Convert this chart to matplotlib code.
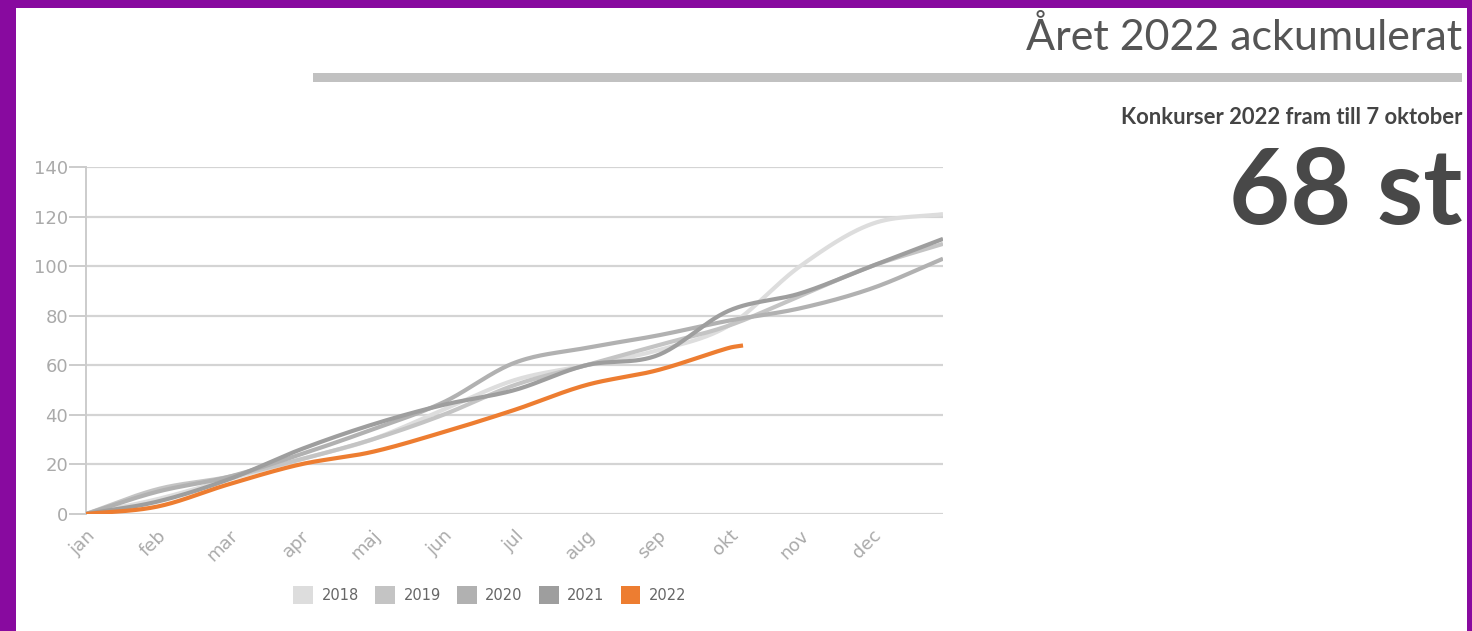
import numpy as np
import matplotlib.pyplot as plt
from matplotlib.patches import Rectangle, Patch

# månader (13:e punkten = årets slut, utan etikett)
months = ["jan", "feb", "mar", "apr", "maj", "jun", "jul", "aug", "sep", "okt", "nov", "dec", ""]
x_full = list(range(13))

y2018 = [0, 6, 14, 22, 30, 42, 54, 60, 66, 76, 100, 117, 121]
y2019 = [0, 10, 15, 22, 30, 40, 52, 60, 68, 76, 88, 100, 109]
y2020 = [0, 9, 15, 24, 34, 45, 61, 67, 72, 78, 83, 91, 103]
y2021 = [0, 5, 14, 26, 36, 44, 50, 60, 64, 82, 89, 100, 111]
x2022 = [0, 1, 2, 3, 4, 5, 6, 7, 8, 9, 9.2]
y2022 = [0, 3, 12, 20, 25, 33, 42, 52, 58, 67, 68]

years = ["2018", "2019", "2020", "2021", "2022"]
colors = ["#dddddd", "#c4c4c4", "#b1b1b1", "#9e9e9e", "#ed7d31"]


def smooth(xs, ys, n=30):
    # kubisk hermite genom punkterna, bara för att rita mjuka linjer
    xs = np.asarray(xs, float)
    ys = np.asarray(ys, float)
    m = np.zeros_like(ys)
    m[1:-1] = (ys[2:] - ys[:-2]) / (xs[2:] - xs[:-2])
    m[0] = (ys[1] - ys[0]) / (xs[1] - xs[0])
    m[-1] = (ys[-1] - ys[-2]) / (xs[-1] - xs[-2])
    ox, oy = [], []
    for i in range(len(xs) - 1):
        h = xs[i + 1] - xs[i]
        t = np.linspace(0, 1, n, endpoint=False)
        h00 = 2 * t**3 - 3 * t**2 + 1
        h10 = t**3 - 2 * t**2 + t
        h01 = -2 * t**3 + 3 * t**2
        h11 = t**3 - t**2
        ox.extend(xs[i] + t * h)
        oy.extend(h00 * ys[i] + h10 * h * m[i] + h01 * ys[i + 1] + h11 * h * m[i + 1])
    ox.append(xs[-1])
    oy.append(ys[-1])
    return ox, oy


W, H = 1472, 631
fig = plt.figure(figsize=(W / 100, H / 100), dpi=100)
fig.patch.set_facecolor("#880a9f")
fig.patches.append(Rectangle((16 / W, 0), (W - 16 - 5) / W, (H - 8) / H,
                             transform=fig.transFigure, facecolor="white", edgecolor="none", zorder=0))

ax = fig.add_axes([86 / W, (H - 514) / H, (943 - 86) / W, (514 - 167) / H])
ax.set_zorder(2)
ax.set_facecolor("white")

series = [(x_full, y2018), (x_full, y2019), (x_full, y2020), (x_full, y2021), (x2022, y2022)]
for (xs, ys), c in zip(series, colors):
    sx, sy = smooth(xs, ys)
    ax.plot(sx, sy, color=c, lw=3, solid_capstyle="butt", zorder=3)

ax.set_xlim(0, 12)
ax.set_ylim(0, 140)
ax.set_yticks(range(0, 141, 20))
ax.set_xticks(x_full)
ax.set_xticklabels(months, rotation=45, ha="right", rotation_mode="anchor")
ax.grid(axis="y", color="#d4d4d4", lw=1.6)
ax.set_axisbelow(True)
for s in ["top", "right", "bottom"]:
    ax.spines[s].set_visible(False)
ax.spines["left"].set_color("#cccccc")
ax.spines["left"].set_linewidth(1.4)
ax.tick_params(axis="y", length=12, width=1.4, color="#cccccc", labelcolor="#aaaaaa",
               labelsize=13, pad=1)
ax.tick_params(axis="x", length=0, labelcolor="#aaaaaa", labelsize=13, pad=9)

handles = [Patch(facecolor=c, edgecolor="none", label=y) for y, c in zip(years, colors)]
fig.legend(handles=handles, loc="center", bbox_to_anchor=(490 / W, 1 - 595 / H), ncol=5,
           frameon=False, fontsize=10.5, handlelength=1.35, handleheight=1.6,
           handletextpad=0.6, columnspacing=1.1, labelcolor="#666666")

# rubrik och nyckeltal till höger
fig.text(1462 / W, 1 - 50 / H, "Året 2022 ackumulerat", ha="right", va="baseline",
         fontsize=31, color="#555555", family="Lato", weight="normal")
fig.patches.append(Rectangle((313 / W, 1 - 82 / H), (1462 - 313) / W, 9 / H,
                             transform=fig.transFigure, facecolor="#c1c1c1", edgecolor="none"))
fig.text(1462 / W, 1 - 124 / H, "Konkurser 2022 fram till 7 oktober", ha="right", va="baseline",
         fontsize=15.8, color="#444444", family="Lato", weight="bold")
fig.text(1462 / W, 1 - 224 / H, "68 st", ha="right", va="baseline",
         fontsize=76, color="#484848", family="Lato", weight="bold")

fig.savefig("out.png", dpi=100, facecolor=fig.get_facecolor())
